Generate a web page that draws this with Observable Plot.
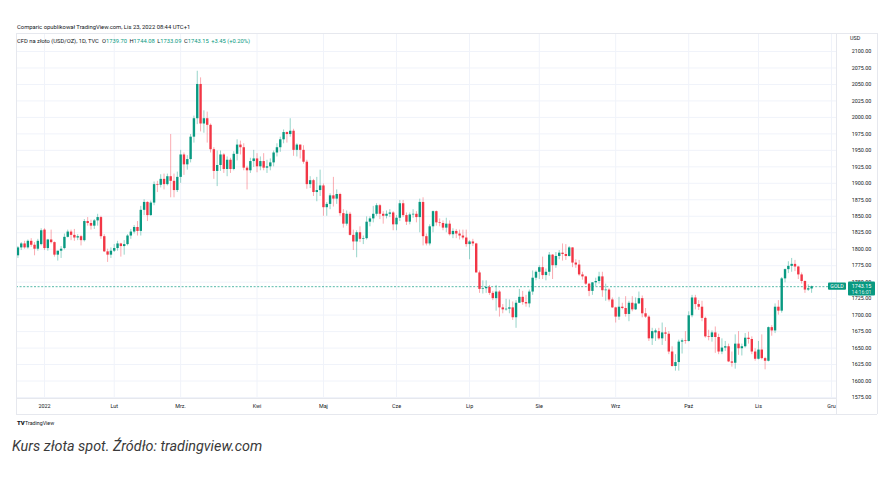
<!DOCTYPE html>
<html><head><meta charset="utf-8">
<script src="https://cdn.jsdelivr.net/npm/d3@7"></script>
<script src="https://cdn.jsdelivr.net/npm/@observablehq/plot@0.6"></script>
<style>
body{margin:0;background:#fff;}
#wrap{position:relative;width:890px;height:483px;overflow:hidden;}
#chart{position:absolute;left:0;top:0;}
#cap{position:absolute;left:12px;top:438px;font-family:Roboto,"Noto Sans",sans-serif;font-style:italic;font-size:14.4px;color:#3a3a3a;white-space:nowrap;}
</style></head><body>
<div id="wrap"><div id="chart"></div><div id="cap">Kurs złota spot. Źródło: tradingview.com</div></div>
<script>
// Daily candles, TVC:GOLD, 21 Dec 2021 – 23 Nov 2022 (index = trading day)
const open = [
1790,1802,1808,1802,1812,1806,1800,1807,1829,1801,
1814,1810,1791,1797,1801,1818,1826,1821,1817,1819,
1813,1842,1839,1835,1843,1848,1819,1796,1791,1797,
1801,1808,1804,1807,1820,1826,1833,1827,1859,1871,
1851,1870,1898,1897,1906,1898,1910,1903,1889,1909,
1943,1928,1936,1970,1998,2050,1990,1998,1988,1951,
1918,1927,1943,1921,1935,1921,1944,1958,1954,1923,
1919,1933,1937,1925,1933,1923,1925,1931,1946,1954,
1966,1977,1974,1979,1950,1958,1950,1932,1898,1904,
1886,1889,1896,1863,1868,1881,1876,1883,1854,1838,
1853,1821,1811,1825,1815,1816,1841,1846,1853,1866,
1853,1850,1853,1855,1837,1847,1869,1851,1841,1852,
1853,1848,1871,1819,1808,1834,1857,1840,1839,1832,
1838,1822,1827,1823,1820,1817,1807,1811,1808,1764,
1739,1740,1742,1733,1725,1735,1711,1708,1709,1711,
1696,1718,1727,1719,1717,1735,1756,1765,1772,1760,
1765,1791,1775,1789,1794,1792,1789,1802,1779,1776,
1761,1758,1747,1736,1749,1751,1758,1737,1738,1723,
1711,1697,1712,1710,1701,1718,1708,1717,1725,1702,
1697,1664,1673,1675,1664,1673,1671,1644,1622,1628,
1659,1661,1660,1699,1726,1716,1712,1695,1667,1666,
1673,1666,1644,1650,1652,1629,1627,1656,1649,1652,
1665,1663,1644,1633,1647,1634,1630,1681,1676,1712,
1706,1755,1769,1774,1777,1773,1761,1751,1738,1739.70
];
const high = [
1804,1810,1812,1814,1816,1810,1815,1831,1831,1815,
1829,1811,1797,1804,1823,1829,1829,1830,1822,1821,
1845,1848,1844,1845,1853,1850,1822,1800,1802,1807,
1812,1809,1813,1822,1830,1836,1842,1865,1875,1872,
1873,1902,1903,1913,1914,1914,1974,1914,1917,1950,
1946,1942,1974,2002,2070,2060,2010,2008,1990,1954,
1949,1949,1945,1940,1938,1948,1966,1964,1960,1926,
1938,1950,1945,1940,1945,1935,1937,1949,1960,1970,
1981,1978,1998,1982,1960,1958,1957,1935,1910,1906,
1909,1920,1899,1871,1884,1909,1890,1885,1860,1858,
1856,1829,1828,1834,1820,1849,1849,1865,1869,1868,
1857,1858,1860,1857,1851,1874,1874,1855,1855,1860,
1857,1876,1878,1823,1837,1858,1858,1846,1843,1847,
1843,1831,1830,1829,1829,1829,1813,1815,1809,1767,
1752,1752,1745,1736,1745,1737,1716,1724,1723,1720,
1722,1739,1736,1730,1738,1767,1767,1775,1788,1770,
1795,1792,1795,1798,1808,1807,1804,1802,1784,1783,
1765,1759,1748,1749,1756,1765,1765,1747,1740,1726,
1712,1727,1718,1728,1721,1728,1726,1735,1729,1710,
1699,1680,1679,1680,1688,1681,1675,1652,1640,1662,
1664,1675,1705,1730,1730,1722,1721,1697,1677,1676,
1682,1671,1664,1660,1656,1644,1670,1675,1656,1672,
1674,1667,1649,1660,1670,1636,1682,1684,1717,1722,
1757,1770,1781,1786,1783,1774,1764,1752,1746,1744.08
];
const low = [
1786,1798,1800,1800,1803,1790,1797,1805,1798,1797,
1808,1788,1782,1786,1799,1817,1813,1812,1813,1805,
1811,1835,1829,1830,1835,1815,1795,1780,1786,1795,
1797,1788,1791,1805,1815,1823,1820,1820,1851,1842,
1850,1866,1886,1893,1890,1896,1878,1878,1886,1900,
1912,1920,1931,1961,1989,1978,1976,1961,1946,1906,
1895,1918,1915,1910,1915,1919,1934,1943,1919,1890,
1915,1924,1916,1919,1919,1915,1919,1925,1940,1947,
1960,1961,1970,1941,1940,1937,1929,1891,1892,1880,
1872,1880,1850,1850,1860,1864,1868,1850,1832,1835,
1820,1798,1787,1810,1807,1814,1834,1840,1850,1845,
1838,1846,1848,1828,1828,1842,1848,1836,1837,1847,
1840,1825,1805,1805,1805,1825,1835,1834,1828,1825,
1820,1816,1816,1814,1814,1803,1784,1804,1764,1733,
1732,1733,1730,1722,1706,1697,1702,1706,1702,1692,
1680,1718,1715,1712,1711,1730,1752,1754,1754,1752,
1759,1754,1771,1784,1782,1783,1788,1772,1771,1759,
1753,1745,1728,1730,1743,1747,1727,1721,1720,1710,
1688,1692,1708,1697,1690,1705,1707,1716,1696,1695,
1660,1654,1660,1662,1654,1660,1640,1621,1615,1615,
1641,1656,1659,1696,1708,1707,1690,1665,1661,1659,
1642,1640,1640,1645,1628,1621,1618,1639,1638,1650,
1656,1640,1630,1632,1632,1617,1629,1668,1672,1700,
1703,1749,1763,1765,1766,1754,1747,1733,1736,1733.09
];
const close = [
1802,1808,1802,1812,1806,1800,1812,1828,1801,1814,
1810,1791,1797,1800,1818,1826,1821,1817,1819,1813,
1842,1839,1835,1843,1848,1819,1796,1791,1797,1801,
1808,1804,1807,1820,1826,1833,1827,1859,1871,1851,
1870,1898,1897,1906,1898,1910,1903,1889,1909,1943,
1928,1936,1970,1998,2050,1990,1998,1988,1951,1918,
1927,1943,1921,1935,1921,1944,1958,1954,1923,1919,
1933,1937,1925,1933,1923,1925,1931,1946,1954,1966,
1977,1974,1979,1950,1958,1950,1932,1898,1904,1886,
1889,1896,1863,1868,1881,1876,1883,1854,1838,1853,
1821,1811,1825,1815,1816,1841,1846,1853,1866,1853,
1850,1853,1855,1837,1847,1869,1851,1841,1852,1853,
1848,1871,1819,1808,1834,1857,1840,1839,1832,1838,
1822,1827,1823,1820,1817,1807,1811,1808,1764,1739,
1740,1742,1733,1725,1735,1711,1708,1709,1711,1696,
1718,1727,1719,1717,1735,1756,1765,1772,1760,1765,
1791,1775,1789,1794,1792,1789,1802,1779,1776,1761,
1758,1747,1736,1749,1751,1758,1737,1738,1723,1711,
1697,1712,1710,1701,1718,1708,1717,1725,1702,1697,
1664,1675,1676,1664,1673,1671,1644,1622,1628,1659,
1661,1660,1699,1726,1716,1712,1695,1667,1666,1673,
1666,1644,1650,1652,1629,1627,1656,1649,1652,1665,
1663,1644,1633,1647,1634,1630,1681,1676,1712,1706,
1755,1769,1774,1777,1773,1761,1751,1738,1740,1743.15
];
const monthLabels = ["2022","Lut","Mrz.","Kwi","Maj","Cze","Lip","Sie","Wrz","Paź","Lis","Gru"];
const monthIndex  = [8,29,49,72,92,114,136,157,180,202,223,245];
const priceTicks = [1575,1600,1625,1650,1675,1700,1725,1750,1775,1800,1825,1850,1875,1900,1925,1950,1975,2000,2025,2050,2075,2100];
const lastPrice = 1743.15, lastTime = "14:16:01";
const headerLine1 = "Comparic opublikował TradingView.com, Lis 23, 2022 08:44 UTC+1";
const headerTitle = "CFD na złoto (USD/OZ), 1D, TVC";
const ohlcLabels = [["O","1739.70"],["H","1744.08"],["L","1733.09"],["C","1743.15"]];
const changeLabel = "+3.45 (+0.20%)";

const GREEN = "#089981", RED = "#F23645", TXT = "#131722", GRID = "#f0f3fa", BORDER = "#e6e8ee";
const FONT = "Roboto, 'Noto Sans', sans-serif";
const candles = close.map((c, i) => ({i, o: open[i], h: high[i], l: low[i], c, col: c >= open[i] ? GREEN : RED}));

const chart = Plot.plot({
  width: 890, height: 420,
  marginTop: 33, marginBottom: 22, marginLeft: 16, marginRight: 54,
  x: {type: "linear", domain: [-0.43, 246.5], axis: null},
  y: {type: "linear", domain: [1575, 2100], range: [397, 51], axis: null},
  color: {type: "identity"},
  style: {fontFamily: FONT, fontSize: "5.4px", color: TXT, background: "transparent", overflow: "visible"},
  marks: [
    Plot.ruleY(priceTicks, {stroke: GRID, strokeWidth: 1}),
    Plot.ruleX(monthIndex, {stroke: GRID, strokeWidth: 1}),
    Plot.ruleY([lastPrice], {stroke: GREEN, strokeWidth: 0.8, strokeOpacity: 0.85, strokeDasharray: "2,1.6"}),
    Plot.ruleX(candles, {x: "i", y1: "l", y2: "h", stroke: "col", strokeOpacity: 0.42, strokeWidth: 1}),
    Plot.ruleX(candles, {x: "i", y1: "o", y2: "c", stroke: "col", strokeWidth: 2.4}),
    Plot.text(priceTicks, {y: d => d, text: d => d.toFixed(2), frameAnchor: "right", dx: 25, textAnchor: "middle", fill: TXT}),
    Plot.text(monthIndex, {x: d => d, text: (d, i) => monthLabels[i], frameAnchor: "bottom", dy: 9, fill: TXT})
  ]
});
document.getElementById("chart").appendChild(chart);

const svg = d3.select(chart);
const ys = chart.scale("y");
const g = svg.append("g").attr("font-family", FONT).attr("text-anchor", "start");
// pane borders
[[16,33.5,877,33.5],[16,398.5,836,398.5],[16,414.5,877,414.5],[16.5,33,16.5,414],[836.5,33,836.5,414],[877.5,33,877.5,414]]
  .forEach(([x1,y1,x2,y2]) => g.append("line").attr("x1",x1).attr("y1",y1).attr("x2",x2).attr("y2",y2).attr("stroke",BORDER).attr("stroke-width",1));
// header
g.append("text").attr("x",17).attr("y",29).attr("font-size",5.85).attr("fill",TXT).text(headerLine1);
const t2 = g.append("text").attr("x",17).attr("y",43).attr("font-size",5.8).attr("fill",TXT);
t2.append("tspan").text(headerTitle);
ohlcLabels.forEach(([k,v],j) => {
  t2.append("tspan").attr("dx", j === 0 ? 3 : 2.5).text(k);
  t2.append("tspan").attr("fill",GREEN).text(v);
});
t2.append("tspan").attr("dx",2.5).attr("fill",GREEN).text(changeLabel);
g.append("text").attr("x",850).attr("y",40).attr("font-size",5.4).attr("fill",TXT).text("USD");
// last price labels
const yy = ys.apply(lastPrice);
g.append("rect").attr("x",828).attr("y",yy-3.6).attr("width",18).attr("height",7.2).attr("rx",1).attr("fill",GREEN);
g.append("text").attr("x",837).attr("y",yy).attr("dy","0.35em").attr("text-anchor","middle").attr("font-size",5.2).attr("fill","#fff").text("GOLD");
g.append("rect").attr("x",848).attr("y",yy-4.6).attr("width",27).attr("height",14).attr("rx",1).attr("fill",GREEN);
g.append("text").attr("x",861.5).attr("y",yy).attr("dy","0.35em").attr("text-anchor","middle").attr("font-size",5.4).attr("fill","#fff").text(lastPrice.toFixed(2));
g.append("text").attr("x",861.5).attr("y",yy+5.6).attr("dy","0.35em").attr("text-anchor","middle").attr("font-size",5.2).attr("fill","#fff").attr("fill-opacity",0.85).text(lastTime);
// TradingView logo
g.append("text").attr("x",17).attr("y",425).attr("font-size",6).attr("font-weight",900).attr("fill",TXT).text("TV");
g.append("text").attr("x",25).attr("y",425).attr("font-size",5.3).attr("fill",TXT).text("TradingView");
</script>
</body></html>
